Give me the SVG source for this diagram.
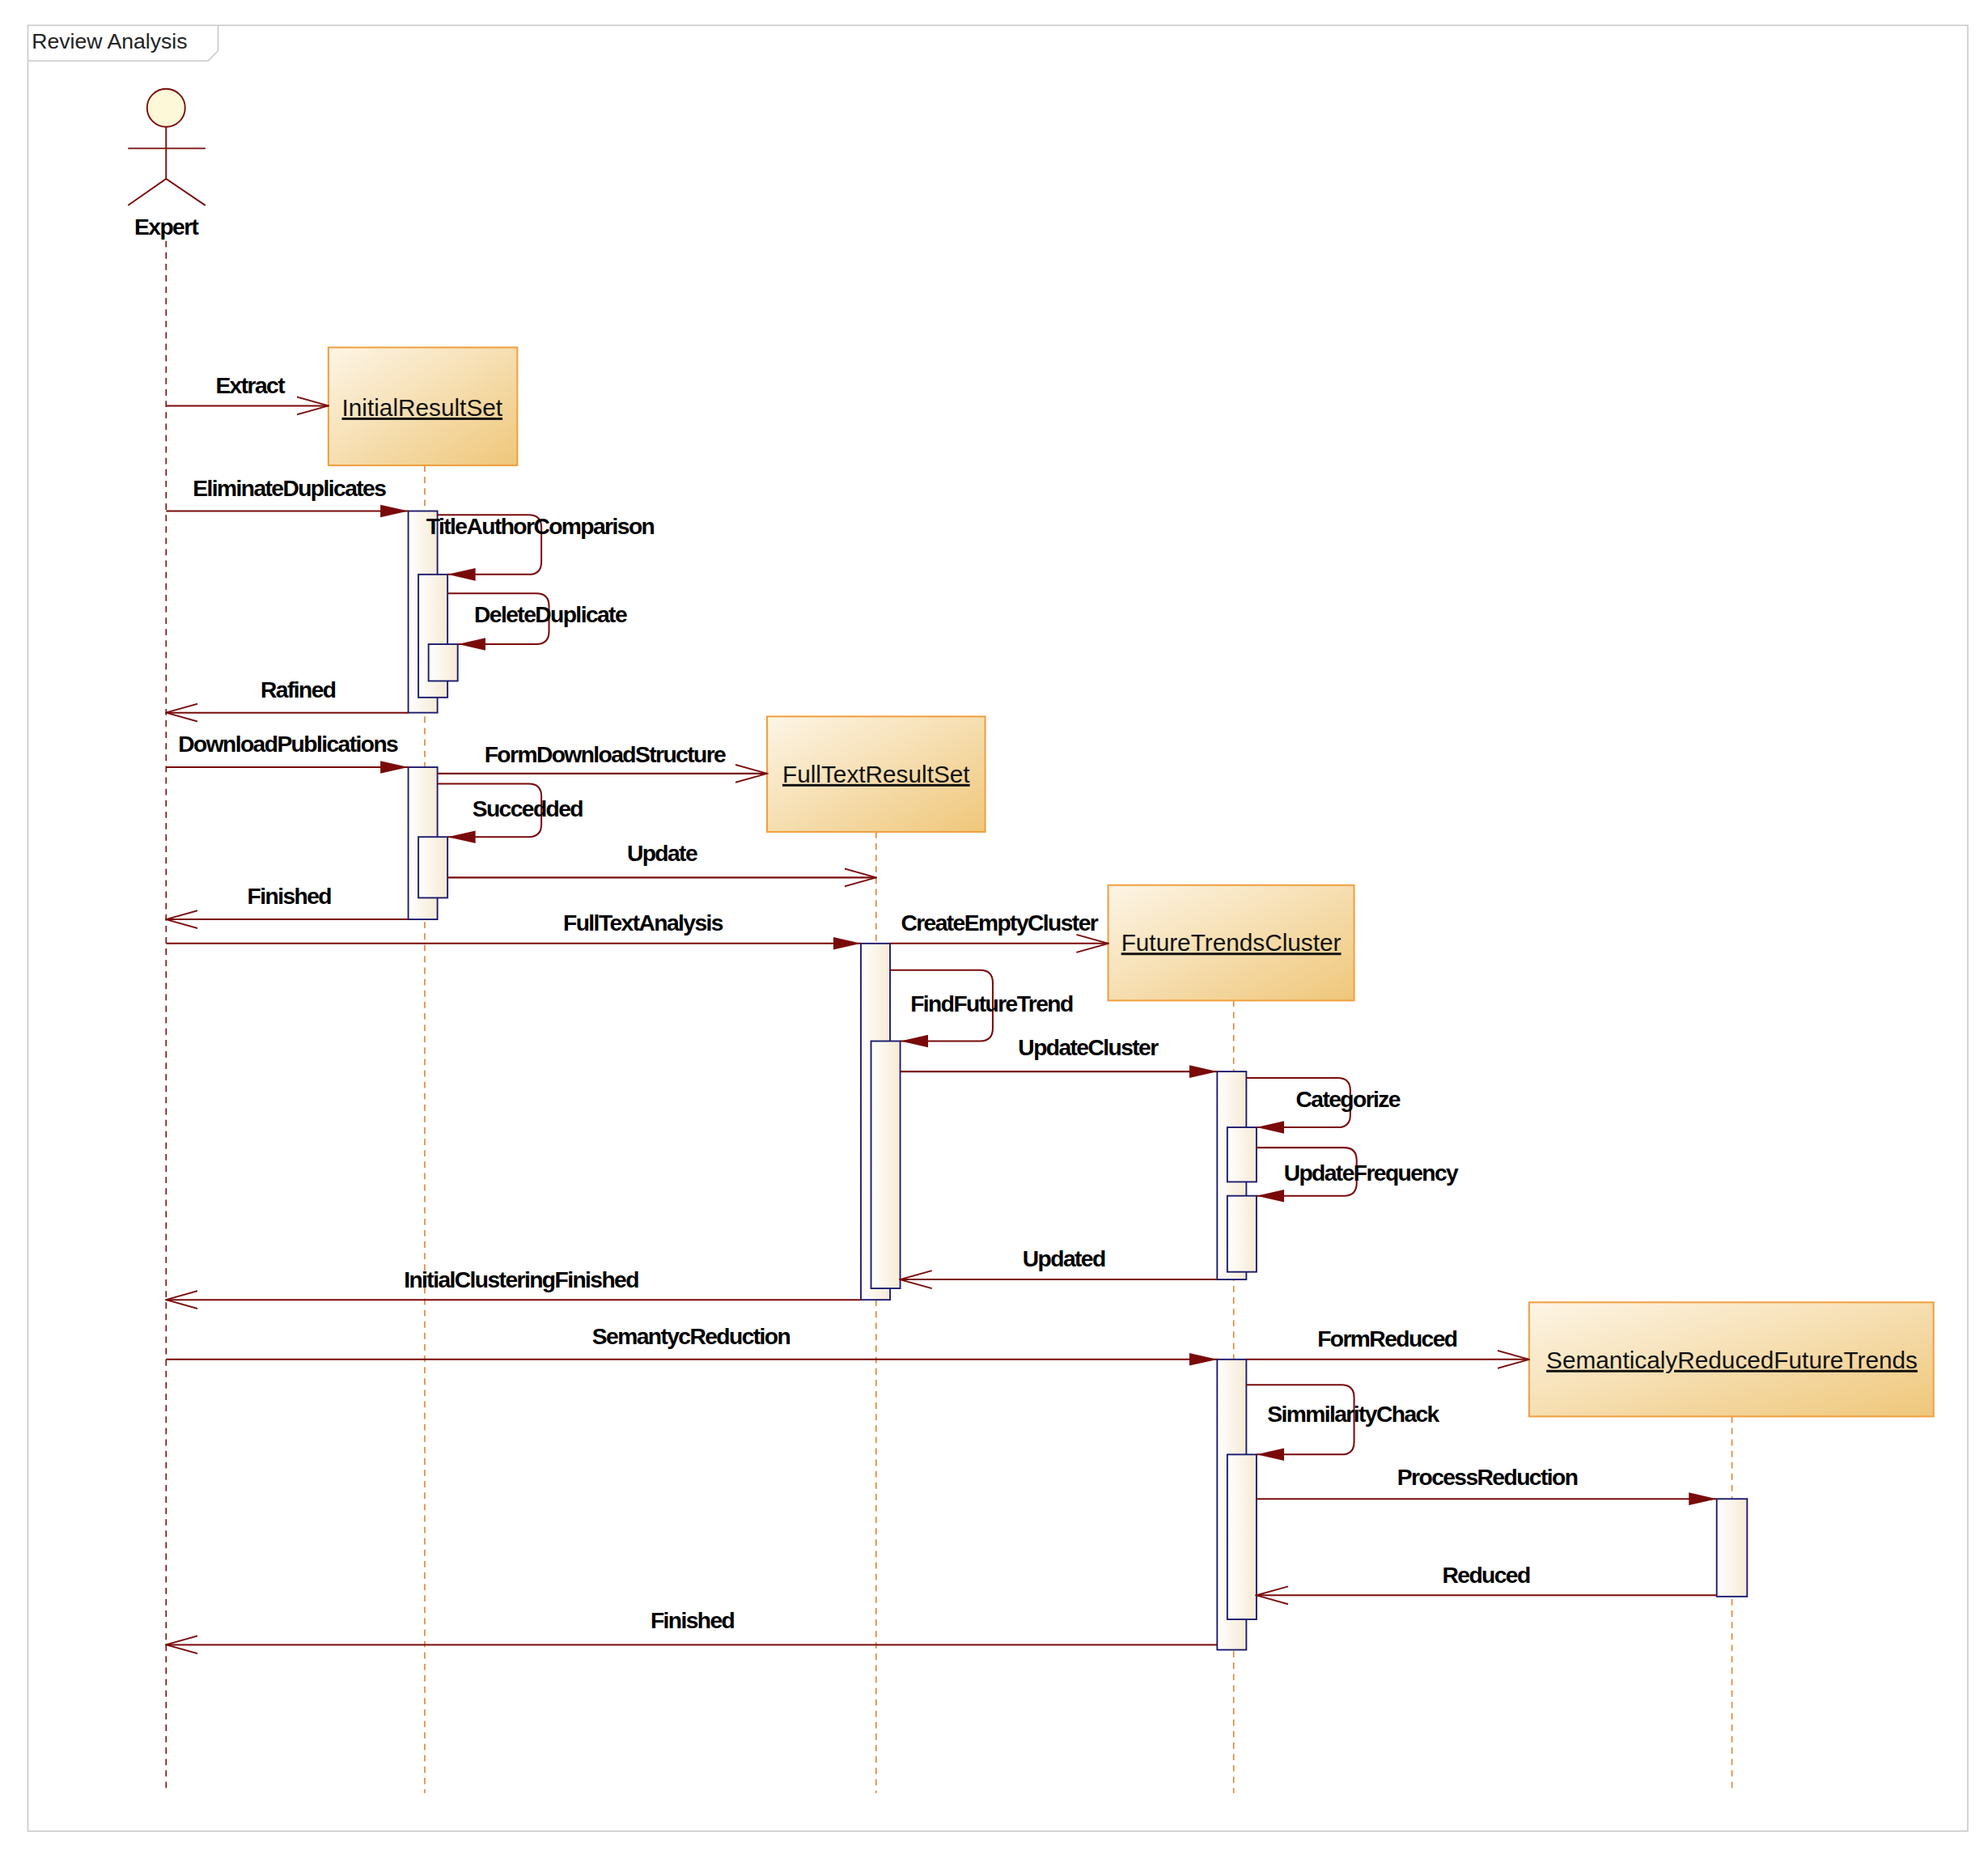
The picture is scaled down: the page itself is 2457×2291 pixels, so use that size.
<svg xmlns="http://www.w3.org/2000/svg" width="2457" height="2291" viewBox="0 0 2457 2291">
<style>
.msg{fill:none;stroke:#7a0a0a;stroke-width:1.3}
.lbl{font-family:"Liberation Sans Narrow","Liberation Sans",sans-serif;font-weight:bold;font-size:18px;fill:#000;text-anchor:middle;letter-spacing:-1px}
.obj{fill:url(#og);stroke:#f0a040;stroke-width:1.3}
.oname{font-family:"Liberation Sans Narrow","Liberation Sans",sans-serif;font-size:19px;fill:#111;text-anchor:middle;text-decoration:underline}
.act{fill:url(#ag);stroke:#1a1a6e;stroke-width:1.2}
.ll{stroke:#e08030;stroke-width:1;stroke-dasharray:5 4;fill:none}
</style>
<defs>
<linearGradient id="og" x1="0" y1="0" x2="1" y2="1"><stop offset="0" stop-color="#fdf5e6"/><stop offset="1" stop-color="#efc77a"/></linearGradient>
<linearGradient id="ag" x1="0" y1="0" x2="1" y2="0"><stop offset="0" stop-color="#fff"/><stop offset="1" stop-color="#f6ead4"/></linearGradient>
<marker id="f" markerWidth="22" markerHeight="12" refX="22" refY="6" orient="auto" markerUnits="userSpaceOnUse"><path d="M0,1 L22,6 L0,11 Z" fill="#7a0a0a"/></marker>
<marker id="o" markerWidth="26" markerHeight="16" refX="25" refY="8" orient="auto" markerUnits="userSpaceOnUse"><path d="M0,1 L25,8 L0,15" fill="none" stroke="#7a0a0a" stroke-width="1.2"/></marker>
</defs>
<rect width="2457" height="2291" fill="#fff"/>
<g transform="scale(1.567)">
<g id="frame">
<rect x="22" y="20" width="1530" height="1424" fill="none" stroke="#c8c8c8" stroke-width="1"/>
<path d="M22,48 H164 L172,40 V20" fill="none" stroke="#c8c8c8" stroke-width="1"/>
<text x="25" y="38" style="font-family:'Liberation Sans',sans-serif;font-size:17px;fill:#222">Review Analysis</text>
</g>
<g id="expert">
<circle cx="131" cy="85" r="15" fill="#fdf8d8" stroke="#7a0a0a" stroke-width="1.2"/>
<path d="M131,100 V141 M101,117 H162 M101,162 L131,141 L162,162" fill="none" stroke="#7a0a0a" stroke-width="1.2"/>
<text x="131" y="185" class="lbl">Expert</text>
<line x1="131" y1="190" x2="131" y2="1414" class="ll" style="stroke:#7a0a0a"/>
</g>
<g id="initialResultSet">
<line x1="335" y1="367" x2="335" y2="1414" class="ll"/>
<rect x="259" y="274" width="149" height="93" class="obj"/>
<text x="333" y="328" class="oname">InitialResultSet</text>
</g>
<g id="fullTextResultSet">
<line x1="691" y1="656" x2="691" y2="1414" class="ll"/>
<rect x="605" y="565" width="172" height="91" class="obj"/>
<text x="691" y="617" class="oname">FullTextResultSet</text>
</g>
<g id="futureTrendsCluster">
<line x1="973" y1="789" x2="973" y2="1414" class="ll"/>
<rect x="874" y="698" width="194" height="91" class="obj"/>
<text x="971" y="750" class="oname">FutureTrendsCluster</text>
</g>
<g id="semanticalyReduced">
<line x1="1366" y1="1117" x2="1366" y2="1414" class="ll"/>
<rect x="1206" y="1027" width="319" height="90" class="obj"/>
<text x="1366" y="1079" class="oname">SemanticalyReducedFutureTrends</text>
</g>
<g id="activations">
<rect x="322" y="403" width="23" height="159" class="act"/>
<rect x="330" y="453" width="23" height="97" class="act"/>
<rect x="338" y="508" width="23" height="29" class="act"/>
<rect x="322" y="605" width="23" height="120" class="act"/>
<rect x="330" y="660" width="23" height="48" class="act"/>
<rect x="679" y="744" width="23" height="281" class="act"/>
<rect x="687" y="821" width="23" height="195" class="act"/>
<rect x="960" y="845" width="23" height="164" class="act"/>
<rect x="968" y="889" width="23" height="43" class="act"/>
<rect x="968" y="943" width="23" height="60" class="act"/>
<rect x="960" y="1072" width="23" height="229" class="act"/>
<rect x="968" y="1147" width="23" height="130" class="act"/>
<rect x="1354" y="1182" width="24" height="77" class="act"/>
</g>
<g id="connectors">
<path class="msg" d="M131,320 H259" marker-end="url(#o)"/>
<path class="msg" d="M131,403 H322" marker-end="url(#f)"/>
<path class="msg" d="M345,406 H417 Q427,406 427,416 V443 Q427,453 417,453 H353" marker-end="url(#f)"/>
<path class="msg" d="M353,468 H423 Q433,468 433,478 V498 Q433,508 423,508 H361" marker-end="url(#f)"/>
<path class="msg" d="M322,562 H131" marker-end="url(#o)"/>
<path class="msg" d="M131,605 H322" marker-end="url(#f)"/>
<path class="msg" d="M345,610 H605" marker-end="url(#o)"/>
<path class="msg" d="M345,618 H417 Q427,618 427,628 V650 Q427,660 417,660 H353" marker-end="url(#f)"/>
<path class="msg" d="M353,692 H691" marker-end="url(#o)"/>
<path class="msg" d="M322,725 H131" marker-end="url(#o)"/>
<path class="msg" d="M131,744 H679" marker-end="url(#f)"/>
<path class="msg" d="M702,744 H874" marker-end="url(#o)"/>
<path class="msg" d="M702,765 H773 Q783,765 783,775 V811 Q783,821 773,821 H710" marker-end="url(#f)"/>
<path class="msg" d="M710,845 H960" marker-end="url(#f)"/>
<path class="msg" d="M983,850 H1055 Q1065,850 1065,860 V879 Q1065,889 1055,889 H991" marker-end="url(#f)"/>
<path class="msg" d="M991,905 H1060 Q1070,905 1070,915 V933 Q1070,943 1060,943 H991" marker-end="url(#f)"/>
<path class="msg" d="M960,1009 H710" marker-end="url(#o)"/>
<path class="msg" d="M679,1025 H131" marker-end="url(#o)"/>
<path class="msg" d="M131,1072 H960" marker-end="url(#f)"/>
<path class="msg" d="M983,1072 H1206" marker-end="url(#o)"/>
<path class="msg" d="M983,1092 H1058 Q1068,1092 1068,1102 V1137 Q1068,1147 1058,1147 H991" marker-end="url(#f)"/>
<path class="msg" d="M991,1182 H1354" marker-end="url(#f)"/>
<path class="msg" d="M1354,1258 H991" marker-end="url(#o)"/>
<path class="msg" d="M960,1297 H131" marker-end="url(#o)"/>
</g>
<g id="labels">
<text class="lbl" x="197" y="310">Extract</text>
<text class="lbl" x="228" y="391">EliminateDuplicates</text>
<text class="lbl" x="426" y="421">TitleAuthorComparison</text>
<text class="lbl" x="434" y="491">DeleteDuplicate</text>
<text class="lbl" x="235" y="550">Rafined</text>
<text class="lbl" x="227" y="593">DownloadPublications</text>
<text class="lbl" x="477" y="601">FormDownloadStructure</text>
<text class="lbl" x="416" y="644">Succedded</text>
<text class="lbl" x="522" y="679">Update</text>
<text class="lbl" x="228" y="713">Finished</text>
<text class="lbl" x="507" y="734">FullTextAnalysis</text>
<text class="lbl" x="788" y="734">CreateEmptyCluster</text>
<text class="lbl" x="782" y="798">FindFutureTrend</text>
<text class="lbl" x="858" y="832">UpdateCluster</text>
<text class="lbl" x="1063" y="873">Categorize</text>
<text class="lbl" x="1081" y="931">UpdateFrequency</text>
<text class="lbl" x="839" y="999">Updated</text>
<text class="lbl" x="411" y="1015">InitialClusteringFinished</text>
<text class="lbl" x="545" y="1060">SemantycReduction</text>
<text class="lbl" x="1094" y="1062">FormReduced</text>
<text class="lbl" x="1067" y="1121">SimmilarityChack</text>
<text class="lbl" x="1173" y="1171">ProcessReduction</text>
<text class="lbl" x="1172" y="1248">Reduced</text>
<text class="lbl" x="546" y="1284">Finished</text>
</g>
</g>
</svg>
